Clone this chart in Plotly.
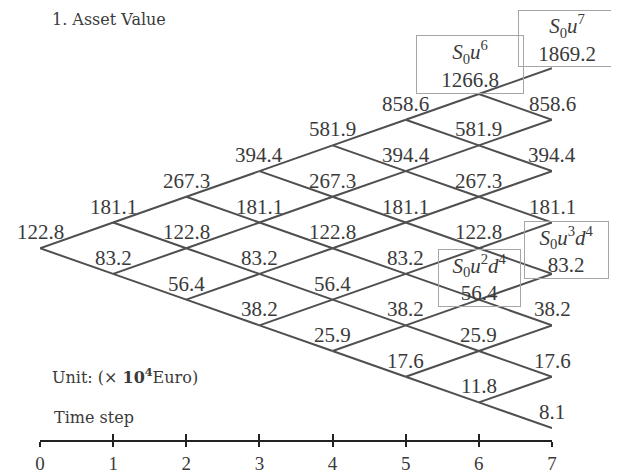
import plotly.graph_objects as go

# ---------------- data ----------------
steps = [0, 1, 2, 3, 4, 5, 6, 7]
step_labels = ["0", "1", "2", "3", "4", "5", "6", "7"]

values_t0 = [122.8]
values_t1 = [181.1, 83.2]
values_t2 = [267.3, 122.8, 56.4]
values_t3 = [394.4, 181.1, 83.2, 38.2]
values_t4 = [581.9, 267.3, 122.8, 56.4, 25.9]
values_t5 = [858.6, 394.4, 181.1, 83.2, 38.2, 17.6]
values_t6 = [1266.8, 581.9, 267.3, 122.8, 56.4, 25.9, 11.8]
values_t7 = [1869.2, 858.6, 394.4, 181.1, 83.2, 38.2, 17.6, 8.1]
tree_values = [values_t0, values_t1, values_t2, values_t3,
               values_t4, values_t5, values_t6, values_t7]

# highlighted nodes: (step, index from top, formula label)
highlight_steps = [6, 7, 7, 6]
highlight_index = [0, 0, 4, 4]
highlight_labels = [
    "<i>S</i><sub>0</sub><i>u</i><sup>6</sup>",
    "<i>S</i><sub>0</sub><i>u</i><sup>7</sup>",
    "<i>S</i><sub>0</sub><i>u</i><sup>3</sup><i>d</i><sup>4</sup>",
    "<i>S</i><sub>0</sub><i>u</i><sup>2</sup><i>d</i><sup>4</sup>",
]

# ---------------- styles ----------------
box_style = [  # width, height, xshift, yshift
    dict(width=104, height=55, xshift=-9, yshift=0),
    dict(width=94, height=53, xshift=15, yshift=1),
    dict(width=81, height=54, xshift=14, yshift=-5),
    dict(width=79, height=54, xshift=1, yshift=-7),
]
LINE_COLOR = "#4f4f4f"
TEXT_COLOR = "#3a3a3a"
NUM_FONT = dict(family="Liberation Serif", size=21, color=TEXT_COLOR)
LBL_FONT = dict(family="DejaVu Serif", size=16, color=TEXT_COLOR)

# page body has an 8px margin -> figure is 611x466 drawn at (8, 8)
W, H = 611, 466
ML, MR, MT, MB = 32, 67, 0, 29


def level(i, k):
    return i - 2 * k


# ---------------- tree edges ----------------
ex, ey = [], []
for i in range(len(tree_values) - 1):
    for k in range(len(tree_values[i])):
        for nk in (k, k + 1):
            ex += [steps[i], steps[i + 1], None]
            ey += [level(i, k), level(i + 1, nk), None]

fig = go.Figure()
fig.add_trace(go.Scatter(x=ex, y=ey, mode="lines",
                         line=dict(color=LINE_COLOR, width=2),
                         hoverinfo="skip", showlegend=False))

# ---------------- node labels ----------------
highlighted = {(s, k): n for n, (s, k) in enumerate(zip(highlight_steps, highlight_index))}
annotations = []
for i, vals in enumerate(tree_values):
    for k, v in enumerate(vals):
        if (i, k) in highlighted:
            n = highlighted[(i, k)]
            st = box_style[n]
            annotations.append(dict(
                x=steps[i], y=level(i, k), xref="x", yref="y",
                text=f"{highlight_labels[n]}<br>{v:.1f}",
                showarrow=False, xanchor="center", yanchor="bottom",
                xshift=st["xshift"], yshift=st["yshift"],
                width=st["width"], height=st["height"], align="center",
                valign="middle", bordercolor="#a6a6a6", borderwidth=1,
                borderpad=1, font=NUM_FONT))
        else:
            annotations.append(dict(
                x=steps[i], y=level(i, k), xref="x", yref="y",
                text=f"{v:.1f}", showarrow=False,
                xanchor="center", yanchor="bottom", yshift=2,
                font=NUM_FONT))

# ---------------- free text (pixel positions from top-left of figure) ----------------
free_texts = [
    (42, 0, "top", "1. Asset Value"),
    (42, 372, "middle", "Unit: (× <b>10<sup>4</sup></b>Euro)"),
    (44, 414, "middle", "Time step"),
]
for px, py, anchor, t in free_texts:
    annotations.append(dict(
        x=(px - ML) / (W - ML - MR), y=(H - py - MB) / (H - MT - MB),
        xref="paper", yref="paper", text=t, showarrow=False,
        xanchor="left", yanchor=anchor, font=LBL_FONT))

fig.update_layout(
    width=W, height=H,
    margin=dict(l=ML, r=MR, t=MT, b=MB, pad=0),
    paper_bgcolor="white", plot_bgcolor="white",
    showlegend=False,
    annotations=annotations,
    xaxis=dict(range=[0, 7], tickvals=steps, ticktext=step_labels,
               showgrid=False, zeroline=False, showline=True,
               linecolor="#222222", linewidth=2,
               ticks="outside", ticklen=5, tickwidth=2, tickcolor="#222222",
               tickfont=dict(family="Liberation Serif", size=19, color="#3a3a3a")),
    xaxis2=dict(range=[0, 7], overlaying="x", anchor="y", side="bottom",
                tickvals=steps, showticklabels=False, showgrid=False,
                zeroline=False, showline=False,
                ticks="inside", ticklen=6, tickwidth=2, tickcolor="#222222"),
    yaxis=dict(range=[-7.462, 9.346], visible=False, showgrid=False,
               zeroline=False),
)
# invisible trace so that xaxis2 (inner tick marks) is drawn
fig.add_trace(go.Scatter(x=[0], y=[0], xaxis="x2", mode="markers",
                         marker=dict(opacity=0), hoverinfo="skip",
                         showlegend=False))

fig.write_html("out.html")
